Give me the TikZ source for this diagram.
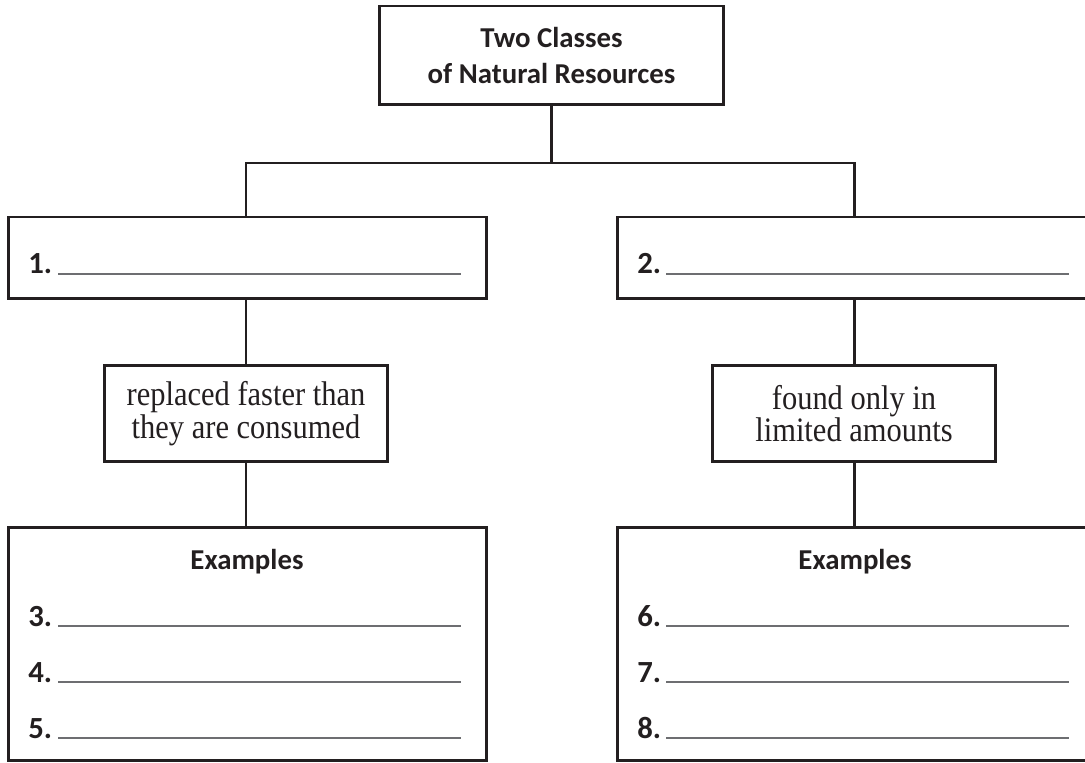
\documentclass[tikz,border=0pt]{standalone}
\usepackage{fontspec}
\setsansfont{Carlito}
\newfontfamily\garafont[FakeStretch=0.89]{Liberation Serif}
\definecolor{ink}{HTML}{231F20}
\definecolor{rulegray}{HTML}{6D6E71}

\begin{document}
\begin{tikzpicture}[x=0.02cm, y=-0.02cm,
    every node/.style={text=ink},
    frame/.style={draw=ink, line width=1.7pt, inner sep=0pt},
    head/.style={font=\sffamily\bfseries\fontsize{16.4}{20.4}\selectfont},
    num/.style={head, anchor=base west, inner sep=0pt, font=\sffamily\bfseries\fontsize{17.5}{20}\selectfont},
    note/.style={frame, align=center, minimum width=5.68cm, minimum height=1.94cm,
      font=\garafont\fontsize{19.5}{18.5}\selectfont},
    classbox/.style={frame, minimum width=9.58cm, minimum height=1.64cm},
    examplebox/.style={frame, minimum width=9.58cm, minimum height=4.68cm},
    link/.style={draw=ink, line width=1.7pt},
    blank/.style={draw=rulegray, line width=1pt}]
  \useasboundingbox (0,0) rectangle (1085,763);
  % title
  \node[frame, head, align=center, minimum width=6.9cm, minimum height=1.98cm]
    (title) at (551.5,55.5) {Two Classes\\of Natural Resources};
  \coordinate (bar) at (551.5,163);
  % classes
  \node[classbox] (cls1) at (247.5,258) {};
  \node[classbox] (cls2) at (856.5,258) {};
  \node[num] (n1) at (28,274) {1.};
  \node[num] (n2) at (637,274) {2.};
  \draw[blank] (58,274) -- (461,274);
  \draw[blank] (666,274) -- (1069,274);
  % descriptions
  \node[note] (desc1) at (246,413.5) {replaced faster than\\they are consumed};
  \node[note] (desc2) at (854,413.5) {found only in\\limited amounts};
  % examples
  \node[examplebox] (ex1) at (247.5,644) {};
  \node[examplebox] (ex2) at (856.5,644) {};
  \node[head, anchor=base] (exh1) at (247,569) {Examples};
  \node[head, anchor=base] (exh2) at (855,569) {Examples};
  \foreach \n/\yy in {3/626,4/682,5/738}
   {
    \node[num] (n\n) at (28,\yy) {\n.};
    \draw[blank] (58,\yy) -- (461,\yy);
   }
  \foreach \n/\yy in {6/626,7/682,8/738}
   {
    \node[num] (n\n) at (637,\yy) {\n.};
    \draw[blank] (666,\yy) -- (1069,\yy);
   }
  % connectors
  \draw[link] (title.south) -- (bar);
  \draw[link] (cls1.north -| desc1.north) |- (bar) -| (cls2.north -| desc2.north);
  \draw[link] (desc1.north |- cls1.south) -- (desc1.north);
  \draw[link] (desc2.north |- cls2.south) -- (desc2.north);
  \draw[link] (desc1.south) -- (desc1.south |- ex1.north);
  \draw[link] (desc2.south) -- (desc2.south |- ex2.north);
\end{tikzpicture}
\end{document}
